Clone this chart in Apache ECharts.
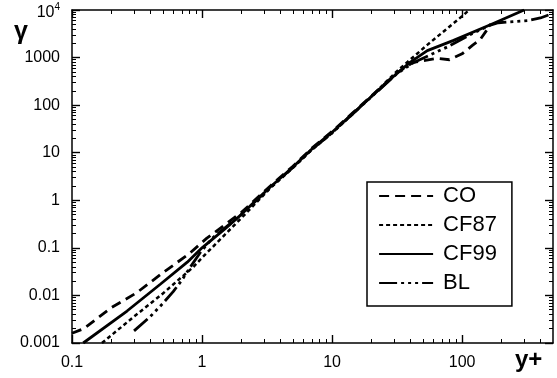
<!DOCTYPE html>
<html><head><meta charset="utf-8">
<script src="https://cdn.jsdelivr.net/npm/echarts@6/dist/echarts.min.js"></script>
<style>html,body{margin:0;padding:0;background:#fff}#c{width:557px;height:378px}</style>
</head><body><div id="c"></div>
<script>
const seriesNames = ['CO', 'CF87', 'CF99', 'BL'];

const coX = [0.1, 0.123, 0.2, 0.316, 0.5, 0.79, 1.09, 2, 3.35, 5, 7, 10, 14, 20, 31.6, 42, 50, 64, 80, 100, 120, 138, 155, 165];
const coY = [0.0016, 0.002, 0.0055, 0.0115, 0.03, 0.074, 0.16, 0.55, 2.0, 5.2, 12.5, 28, 64, 155, 480, 790, 860, 960, 900, 1200, 1800, 2400, 3800, 5100];

const cf87X = [0.17, 0.3, 0.5, 0.86, 1, 1.5, 2, 3.35, 5, 7, 10, 14, 20, 31.6, 54, 103, 113];
const cf87Y = [0.001, 0.0036, 0.011, 0.04, 0.062, 0.19, 0.42, 1.8, 4.8, 11.5, 26, 60, 152, 520, 1850, 7900, 10000];

const cf99X = [0.122, 0.265, 0.48, 0.77, 1, 1.5, 2, 3.35, 5, 7, 10, 14, 20, 31.6, 40, 54, 86, 165, 300];
const cf99Y = [0.001, 0.0047, 0.0174, 0.05, 0.1, 0.25, 0.5, 1.9, 5, 12, 27, 62, 150, 467, 800, 1400, 2300, 4900, 10000];

const blX = [0.3, 0.4, 0.5, 0.6, 0.7, 0.81, 0.97, 1.2, 2, 3.35, 5, 7, 10, 14, 20, 31.6, 42.5, 78, 120, 165, 190, 250, 320, 400, 500];
const blY = [0.0018, 0.0036, 0.0068, 0.012, 0.021, 0.039, 0.08, 0.16, 0.5, 1.85, 4.9, 11.8, 26, 61, 148, 460, 790, 1700, 3200, 4800, 5400, 5700, 6000, 6800, 8500];

const xMajor = [0.1, 1, 10, 100];
const xLabels = ['0.1', '1', '10', '100'];
const xMinor = [0.2, 0.3, 0.4, 0.5, 0.6, 0.7, 0.8, 0.9, 2, 3, 4, 5, 6, 7, 8, 9, 20, 30, 40, 50, 60, 70, 80, 90, 200, 300, 400];
const yMajor = [0.001, 0.01, 0.1, 1, 10, 100, 1000, 10000];
const yLabels = ['0.001', '0.01', '0.1', '1', '10', '100', '1000', '{a|10}{b|4}'];
const yMinor = [0.002, 0.003, 0.004, 0.005, 0.006, 0.007, 0.008, 0.009,
  0.02, 0.03, 0.04, 0.05, 0.06, 0.07, 0.08, 0.09,
  0.2, 0.3, 0.4, 0.5, 0.6, 0.7, 0.8, 0.9,
  2, 3, 4, 5, 6, 7, 8, 9,
  20, 30, 40, 50, 60, 70, 80, 90,
  200, 300, 400, 500, 600, 700, 800, 900,
  2000, 3000, 4000, 5000, 6000, 7000, 8000, 9000];

const FONT = 'Liberation Sans, Arial, sans-serif';

function zip(xs, ys) { return xs.map((x, i) => [x, ys[i]]); }
function labelFor(v, majors, labels) {
  for (let i = 0; i < majors.length; i++) {
    if (Math.abs(Math.log10(v) - Math.log10(majors[i])) < 1e-6) return labels[i];
  }
  return '';
}

function makeAxis(dim, pos, major, ticks, tickLen, showLine, showLabel) {
  const isX = dim === 'x';
  const ax = {
    type: 'log', logBase: 10,
    min: isX ? 0.1 : 0.001, max: isX ? 500 : 10000,
    position: pos,
    axisLine: { show: showLine, onZero: false, lineStyle: { color: '#000', width: 1.5 } },
    axisTick: { show: true, inside: true, length: tickLen, customValues: ticks, lineStyle: { color: '#000', width: major ? 1.4 : 1 } },
    splitLine: { show: false },
    minorTick: { show: false },
    axisLabel: { show: false }
  };
  if (showLabel) {
    if (isX) {
      ax.axisLabel = { show: true, customValues: xMajor, margin: 12, color: '#000', fontSize: 16, fontFamily: FONT,
        formatter: v => labelFor(v, xMajor, xLabels) };
    } else {
      ax.axisLabel = { show: true, customValues: yMajor, margin: 12, color: '#000', fontSize: 16, fontFamily: FONT,
        formatter: v => labelFor(v, yMajor, yLabels),
        rich: { a: { fontSize: 16, fontFamily: FONT, color: '#000', padding: [6, 0, 0, 0] }, b: { fontSize: 10, fontFamily: FONT, color: '#000', padding: [0, 0, 6, 0] } } };
    }
  }
  return ax;
}

const chart = echarts.init(document.getElementById('c'), null, { renderer: 'canvas' });

const lineStyles = {
  CO: { type: [10, 6], width: 2.8 },
  CF87: { type: [4, 3], width: 2.5 },
  CF99: { type: 'solid', width: 2.8 },
  BL: { type: [18, 4, 3, 4, 3, 4, 3, 4], width: 2.8 }
};
const dataSets = { CO: zip(coX, coY), CF87: zip(cf87X, cf87Y), CF99: zip(cf99X, cf99Y), BL: zip(blX, blY) };

chart.setOption({
  animation: false,
  backgroundColor: '#fff',
  grid: { left: 72, top: 10, right: 4, bottom: 35, containLabel: false },
  xAxis: [
    makeAxis('x', 'bottom', true, xMajor, 8, true, true),
    makeAxis('x', 'bottom', false, xMinor, 4, false, false),
    makeAxis('x', 'top', true, xMajor, 8, true, false),
    makeAxis('x', 'top', false, xMinor, 4, false, false)
  ],
  yAxis: [
    makeAxis('y', 'left', true, yMajor, 8, true, true),
    makeAxis('y', 'left', false, yMinor, 4, false, false),
    makeAxis('y', 'right', true, yMajor, 8, true, false),
    makeAxis('y', 'right', false, yMinor, 4, false, false)
  ],
  legend: {
    orient: 'vertical', left: 367, top: 182,
    data: seriesNames,
    itemWidth: 54, itemHeight: 14, itemGap: 7,
    padding: [3, 15, 12, 11],
    borderColor: '#000', borderWidth: 1.5, borderRadius: 0,
    backgroundColor: '#fff',
    selectedMode: false,
    itemStyle: { opacity: 0 },
    lineStyle: { width: 2.2 },
    textStyle: { fontSize: 22, fontFamily: FONT, color: '#000', width: 58, padding: [0, 0, 0, 5] }
  },
  series: seriesNames.map(n => ({
    name: n, type: 'line', xAxisIndex: 0, yAxisIndex: 0,
    data: dataSets[n], symbol: 'none', showSymbol: false, clip: true,
    lineStyle: Object.assign({ color: '#000' }, lineStyles[n]),
    itemStyle: { color: '#000' }
  })),
  graphic: [
    { type: 'text', left: 14, top: 20, style: { text: 'γ', font: 'bold 25px ' + FONT, fill: '#000' } },
    { type: 'text', left: 515, top: 348, style: { text: 'y+', font: 'bold 24px ' + FONT, fill: '#000' } }
  ]
});
</script></body></html>
